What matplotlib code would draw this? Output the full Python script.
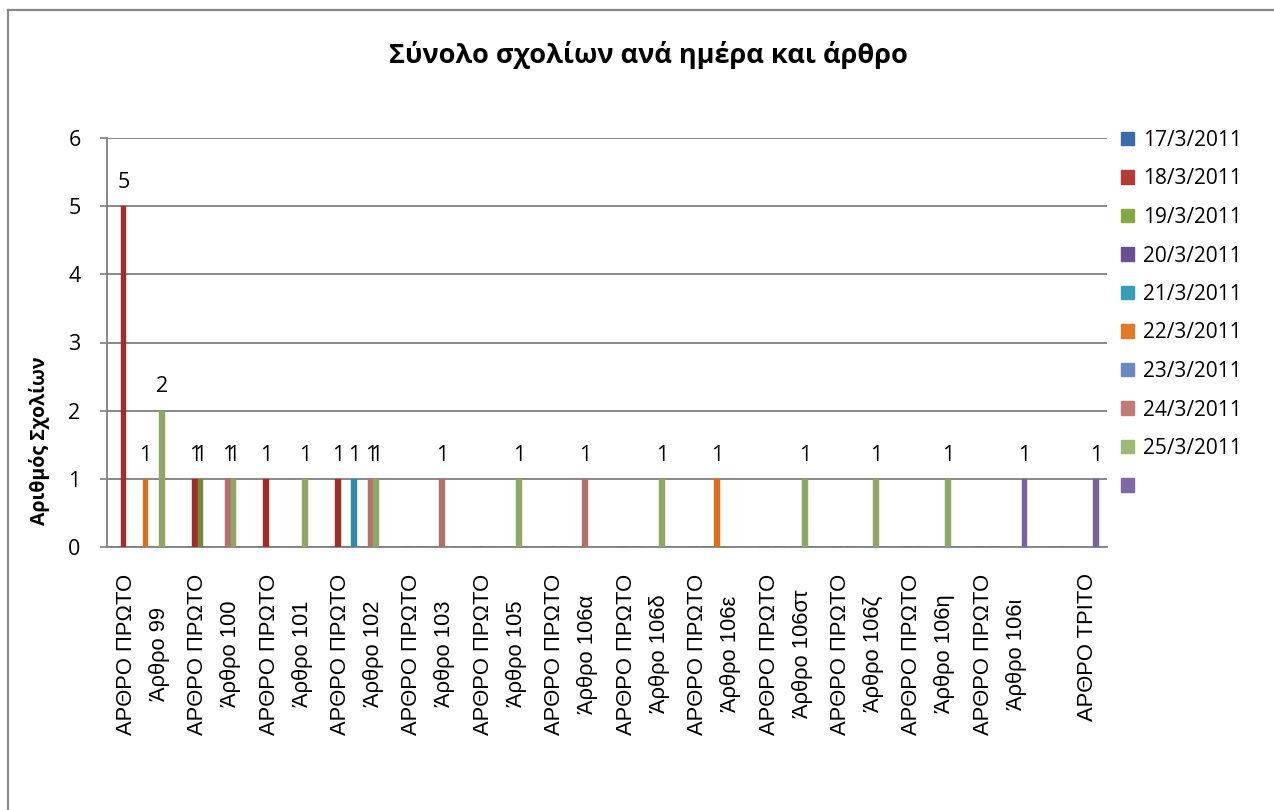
import numpy as np
import matplotlib
matplotlib.use("Agg")
import matplotlib.pyplot as plt
from matplotlib.lines import Line2D
from matplotlib.patches import Patch

# ---------------- data ----------------
group_labels = ["ΑΡΘΡΟ ΠΡΩΤΟ"] * 13 + [""]
article_labels = ["Άρθρο 99", "Άρθρο 100", "Άρθρο 101", "Άρθρο 102", "Άρθρο 103",
                  "Άρθρο 105", "Άρθρο 106α", "Άρθρο 106δ", "Άρθρο 106ε", "Άρθρο 106στ",
                  "Άρθρο 106ζ", "Άρθρο 106η", "Άρθρο 106ι", "ΑΡΘΡΟ ΤΡΙΤΟ"]
series_names = ["17/3/2011", "18/3/2011", "19/3/2011", "20/3/2011", "21/3/2011",
                "22/3/2011", "23/3/2011", "24/3/2011", "25/3/2011", " "]
d17 = [0, 0, 0, 0, 0, 0, 0, 0, 0, 0, 0, 0, 0, 0]
d18 = [5, 1, 1, 1, 0, 0, 0, 0, 0, 0, 0, 0, 0, 0]
d19 = [0, 1, 0, 0, 0, 0, 0, 0, 0, 0, 0, 0, 0, 0]
d20 = [0, 0, 0, 0, 0, 0, 0, 0, 0, 0, 0, 0, 0, 0]
d21 = [0, 0, 0, 1, 0, 0, 0, 0, 0, 0, 0, 0, 0, 0]
d22 = [1, 0, 0, 0, 0, 0, 0, 0, 1, 0, 0, 0, 0, 0]
d23 = [0, 0, 0, 0, 0, 0, 0, 0, 0, 0, 0, 0, 0, 0]
d24 = [0, 1, 0, 1, 1, 0, 1, 0, 0, 0, 0, 0, 0, 0]
d25 = [2, 1, 1, 1, 0, 1, 0, 1, 0, 1, 1, 1, 0, 0]
d_extra = [0, 0, 0, 0, 0, 0, 0, 0, 0, 0, 0, 0, 1, 1]
series_values = [d17, d18, d19, d20, d21, d22, d23, d24, d25, d_extra]

bar_colors = ["#3B6BA8", "#A12D2B", "#6F8C33", "#654E92", "#2E8AA6",
              "#D9701C", "#5F80B6", "#B56F6D", "#8DA764", "#76659A"]
legend_colors = ["#3A6AA8", "#B33B38", "#86A844", "#6A4F94", "#33A0BA",
                 "#E07A25", "#6888BE", "#C27A78", "#9DBA74", "#7E6AA2"]

title = "Σύνολο σχολίων ανά ημέρα και άρθρο"
ylabel = "Αριθμός Σχολίων"
yticks = [0, 1, 2, 3, 4, 5, 6]

# ---------------- figure ----------------
W, H = 1274, 810
fig = plt.figure(figsize=(W / 100, H / 100), dpi=100)
fig.patch.set_facecolor("white")

ax = fig.add_axes([107 / W, 1 - 547 / H, 1000 / W, (547 - 138) / H])

x = np.arange(len(article_labels))
step = 5.5 / 71.43
bw = 0.08
nser = len(series_values)
for i, (vals, c) in enumerate(zip(series_values, bar_colors)):
    cont = ax.bar(x + (i - (nser - 1) / 2) * step, vals, width=bw, color=c,
                  edgecolor=c, linewidth=0.3, zorder=3)
    ax.bar_label(cont, labels=["" if v == 0 else str(v) for v in vals],
                 padding=9.5, fontsize=15.5, family=["Open Sans", "DejaVu Sans"],
                 color="black")

ax.set_xlim(-0.5, len(article_labels) - 0.5)
ax.set_ylim(0, 6)
ax.set_yticks(yticks)
ax.set_yticklabels([str(t) for t in yticks], family=["Open Sans", "DejaVu Sans"],
                   fontsize=15.5)
ax.tick_params(axis="y", length=5, width=1.2, color="#808080", pad=14)
ax.grid(axis="y", color="#808080", linewidth=1.3, zorder=0)
ax.set_axisbelow(True)

ticklabels = [g + "\n" + a for g, a in zip(group_labels, article_labels)]
ax.set_xticks(x)
ax.set_xticklabels(ticklabels, rotation=90, ha="center", va="top",
                   family=["Liberation Sans", "DejaVu Sans"], fontsize=15.8,
                   linespacing=1.75)
ax.tick_params(axis="x", length=0, pad=19)

for s in ["top", "right"]:
    ax.spines[s].set_visible(False)
for s in ["left", "bottom"]:
    ax.spines[s].set_color("#808080")
    ax.spines[s].set_linewidth(1.3)

fig.text(648 / W, 1 - 55 / H, title, ha="center", va="center",
         fontsize=19.5, fontweight="bold", family=["Open Sans", "DejaVu Sans"])
fig.text(40 / W, 1 - 441 / H, ylabel, ha="center", va="center", rotation=90,
         fontsize=14, fontweight="bold", family=["Open Sans", "DejaVu Sans"])

handles = [Patch(facecolor=c, edgecolor=c) for c in legend_colors]
fig.legend(handles, series_names, loc="upper left",
           bbox_to_anchor=(1121 / W, 1 - 130 / H), frameon=False,
           borderpad=0, borderaxespad=0, handlelength=0.62, handleheight=0.62,
           handletextpad=0.45, labelspacing=0.84,
           prop={"family": ["Open Sans", "DejaVu Sans"], "size": 15})

# chart frame (partially cropped in reference)
fig.add_artist(Line2D([8 / W, 8 / W], [0, 1 - 10 / H], transform=fig.transFigure,
                      color="#8a8a8a", linewidth=1.6))
fig.add_artist(Line2D([8 / W, 1], [1 - 10 / H, 1 - 10 / H], transform=fig.transFigure,
                      color="#8a8a8a", linewidth=1.6))

fig.savefig("out.png", dpi=100, facecolor="white")
